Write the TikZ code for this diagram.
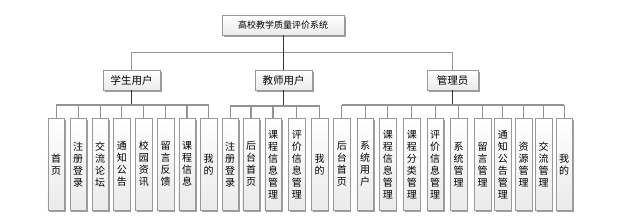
\documentclass[tikz,border=0pt]{standalone}
\usepackage{fontspec}
\newfontfamily\cjk{Noto Sans CJK SC}
\usetikzlibrary{shadows}
\begin{document}
\begin{tikzpicture}[x=1pt,y=-1pt,
  boxbase/.style={draw=gray!80, top color=white, bottom color=gray!16, inner sep=0pt, anchor=north west,
    drop shadow={shadow xshift=1.3pt, shadow yshift=-1.3pt, fill=gray!75, opacity=1}},
  topbox/.style={boxbase, minimum width=122pt, minimum height=20pt, font=\cjk\fontsize{9}{10}\selectfont},
  midbox/.style={boxbase, minimum width=57pt, minimum height=20pt, font=\cjk\fontsize{10.5}{12}\selectfont},
  leaf/.style={boxbase, minimum width=16.6pt, minimum height=92pt, align=center, font=\cjk\fontsize{10}{12}\selectfont},
  link/.style={draw=gray!85, line width=1.2pt},
  stub/.style={draw=black!80, line width=0.9pt}]
\useasboundingbox (0,0) rectangle (624,220);
\fill[white] (0,0) rectangle (624,220);

\node[topbox] (top) at (222,15) {高校教学质量评价系统};
\node[midbox] (stu) at (103,70) {学生用户};
\node[midbox] (tea) at (255,70) {教师用户};
\node[midbox, minimum width=51pt] (adm) at (427,70) {管理员};

% student leaves
\node[leaf] (s1) at (47.7,118) {首\\页};
\node[leaf] (s2) at (69.7,118) {注\\册\\登\\录};
\node[leaf] (s3) at (91.7,118) {交\\流\\论\\坛};
\node[leaf] (s4) at (113.3,118) {通\\知\\公\\告};
\node[leaf] (s5) at (135.3,118) {校\\园\\资\\讯};
\node[leaf] (s6) at (157,118) {留\\言\\反\\馈};
\node[leaf] (s7) at (178.5,118) {课\\程\\信\\息};
\node[leaf] (s8) at (200,118) {我\\的};

% teacher leaves
\node[leaf] (t1) at (221.7,118) {注\\册\\登\\录};
\node[leaf] (t2) at (242.5,118) {后\\台\\首\\页};
\node[leaf] (t3) at (264.5,118) {课\\程\\信\\息\\管\\理};
\node[leaf] (t4) at (288.3,118) {评\\价\\信\\息\\管\\理};
\node[leaf] (t5) at (311,118) {我\\的};

% admin leaves
\node[leaf] (a1) at (333.3,118) {后\\台\\首\\页};
\node[leaf] (a2) at (356.7,118) {系\\统\\用\\户};
\node[leaf] (a3) at (379.3,118) {课\\程\\信\\息\\管\\理};
\node[leaf] (a4) at (403.3,118) {课\\程\\分\\类\\管\\理};
\node[leaf] (a5) at (426.7,118) {评\\价\\信\\息\\管\\理};
\node[leaf] (a6) at (450,118) {系\\统\\管\\理};
\node[leaf] (a7) at (474,118) {留\\言\\管\\理};
\node[leaf] (a8) at (494.3,118) {通\\知\\公\\告\\管\\理};
\node[leaf] (a9) at (515,118) {资\\源\\管\\理};
\node[leaf] (a10) at (535,118) {交\\流\\管\\理};
\node[leaf] (a11) at (555.7,118) {我\\的};

\coordinate (bus0) at (0,52.5);
\coordinate (busS) at (0,105);
\coordinate (busT) at (0,106);
\coordinate (busA) at (0,105);

% level 1
\draw[link] (stu.north) -- (stu.north |- bus0) -- (adm.north |- bus0) -- (adm.north);
\draw[stub] (top.south) -- (top.south |- bus0);
\draw[stub] (tea.north |- bus0) -- (tea.north);

% students
\draw[stub] (stu.south) -- (stu.south |- busS);
\draw[link] (s1.north |- busS) -- (s8.north |- busS);
\foreach \n in {s1,s2,s3,s4,s5,s6,s7,s8} \draw[link] (\n.north |- busS) -- (\n.north);

% teachers
\draw[stub] (tea.south) -- (tea.south |- busT);
\draw[link] (t1.north |- busT) -- (t5.north |- busT);
\foreach \n in {t1,t2,t3,t4,t5} \draw[link] (\n.north |- busT) -- (\n.north);

% admins
\draw[stub] (adm.south) -- (adm.south |- busA);
\draw[link] (a1.north |- busA) -- (a11.north |- busA);
\foreach \n in {a1,a2,a3,a4,a5,a6,a7,a8,a9,a10,a11} \draw[link] (\n.north |- busA) -- (\n.north);
\end{tikzpicture}
\end{document}
